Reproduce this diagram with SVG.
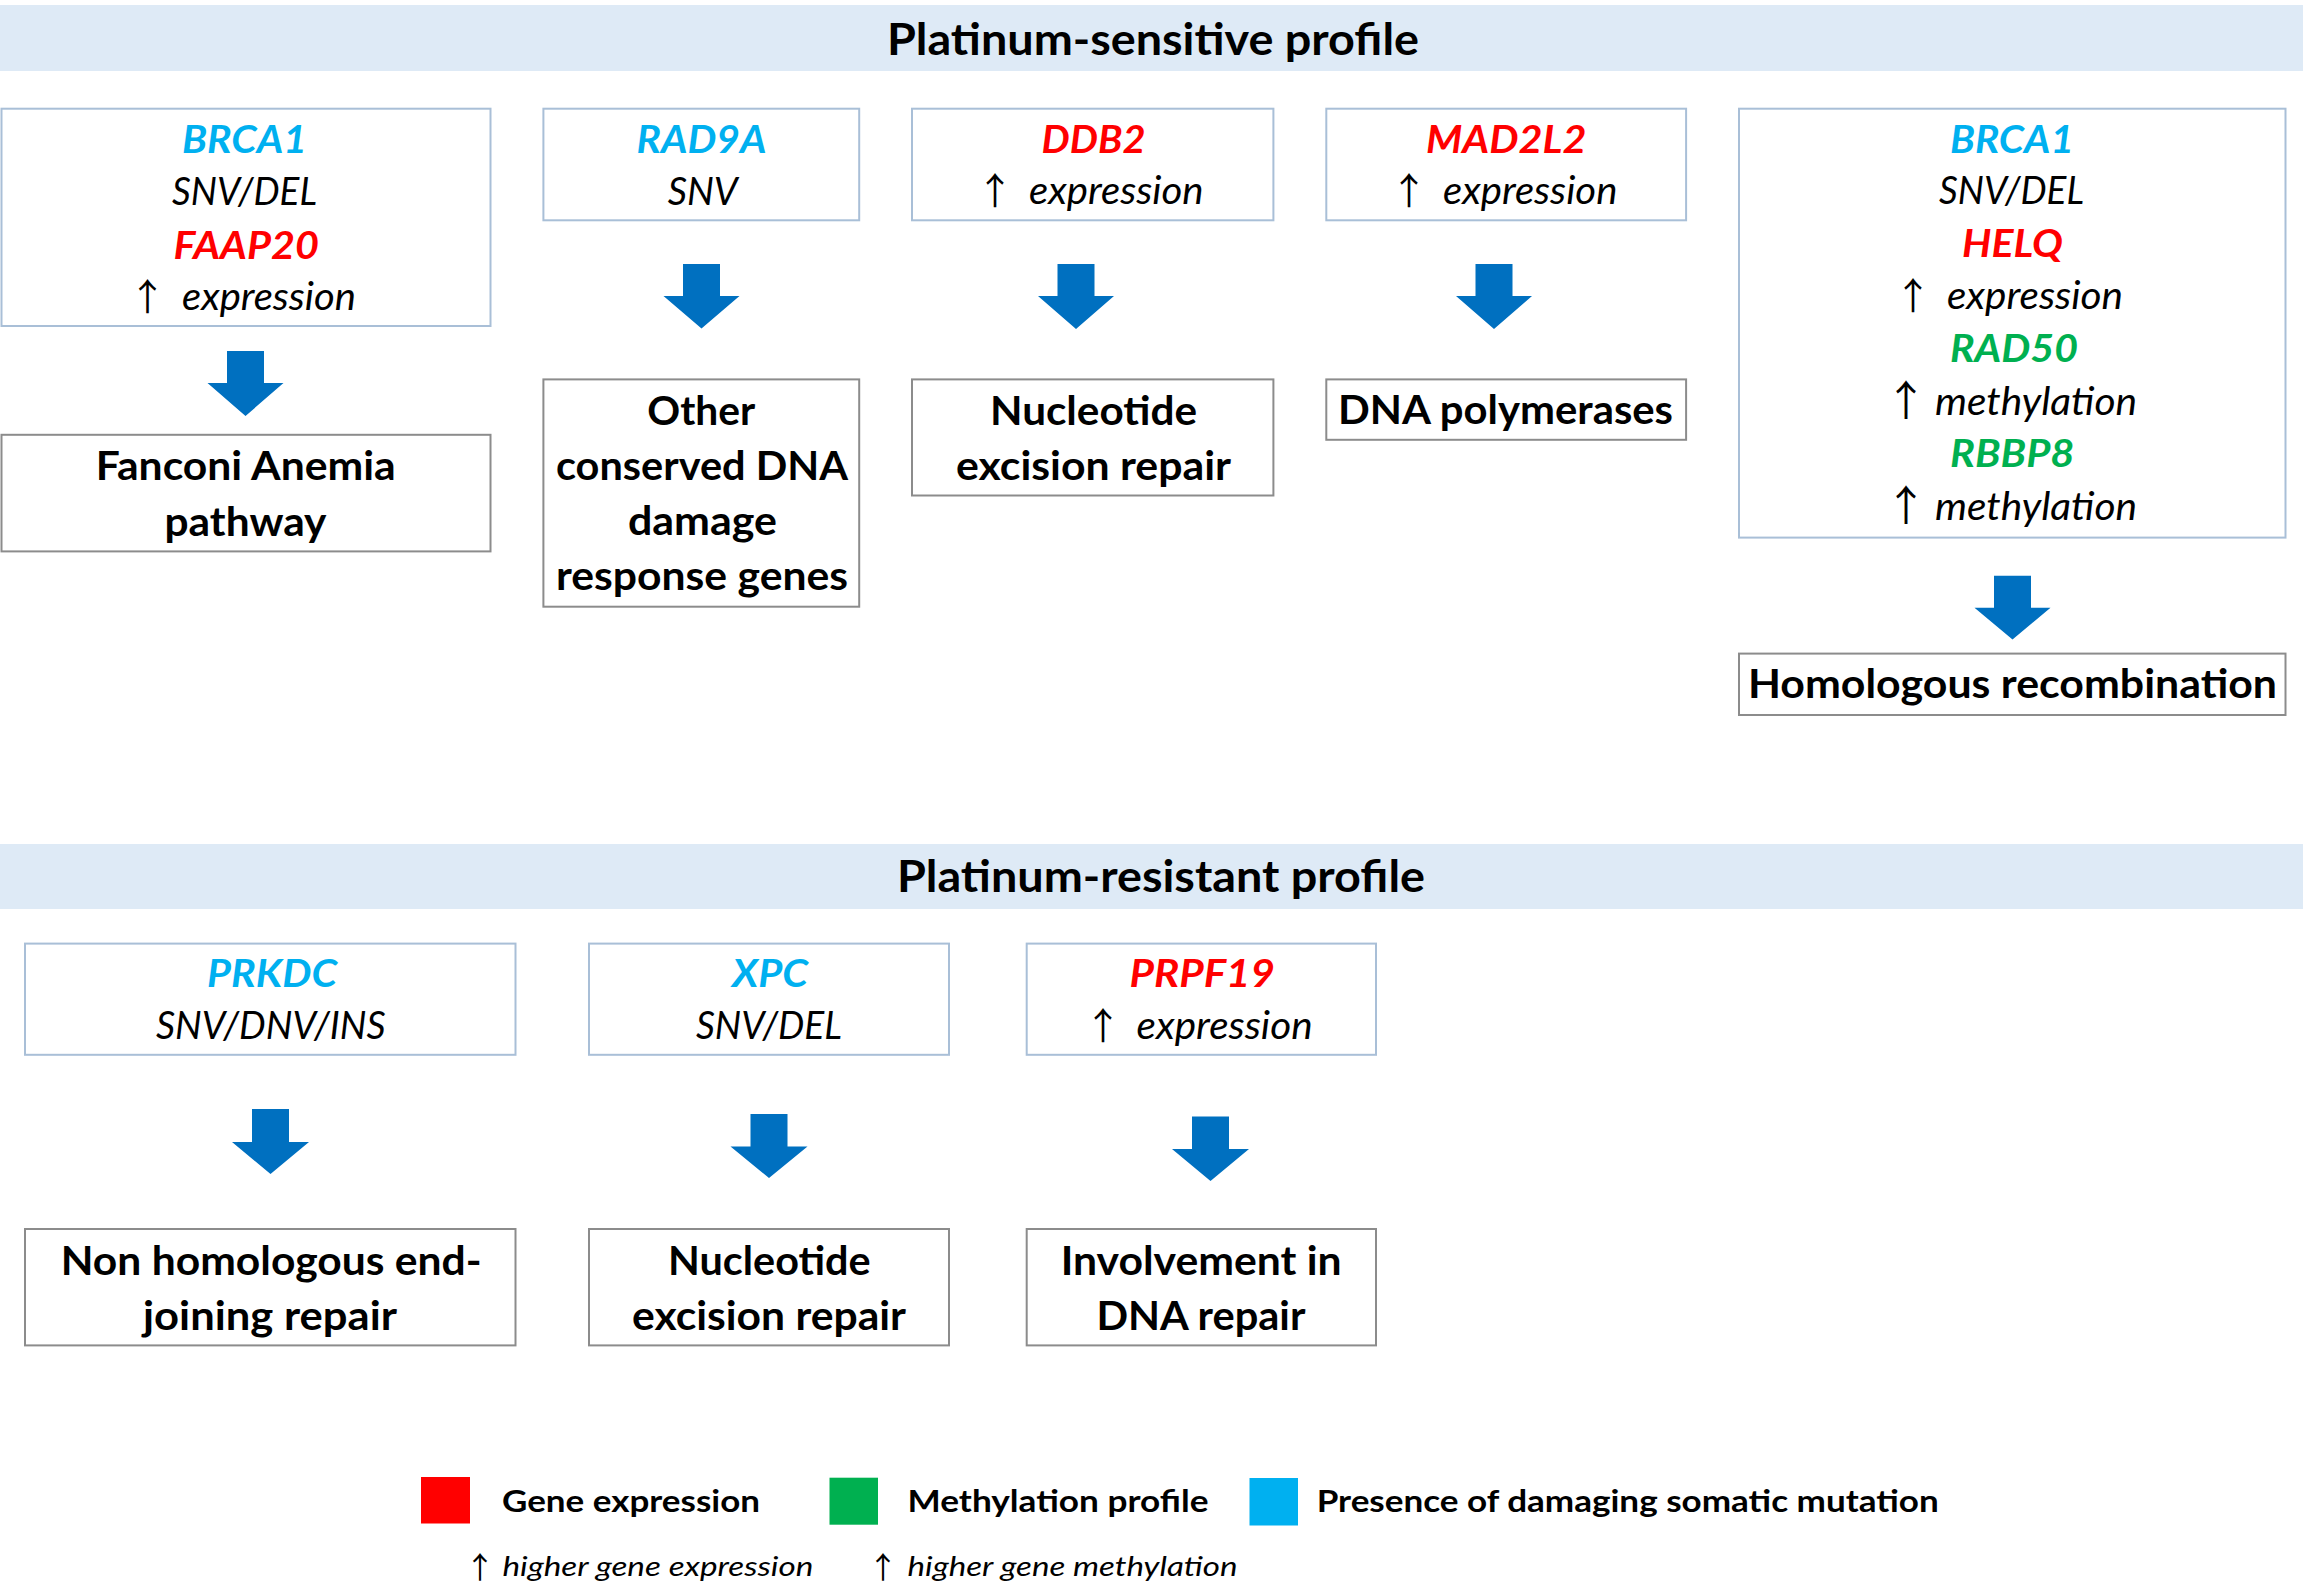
<svg xmlns="http://www.w3.org/2000/svg" width="2303" height="1586" viewBox="0 0 2303 1586">
<defs>
<style>
text{font-family:Lato,"Liberation Sans",sans-serif;}
.band{fill:#deeaf6;}
.title{font-weight:bold;font-size:43px;fill:#000;}
.gbox{fill:#fff;stroke:#a9bfd7;stroke-width:2;}
.obox{fill:#fff;stroke:#8c8c8c;stroke-width:2;}
.gn{font-weight:bold;font-style:italic;font-size:39px;}
.dt{font-style:italic;font-size:39px;fill:#000;}
.out{font-weight:bold;font-size:40px;fill:#000;}
.up{font-family:"Noto Sans CJK SC","DejaVu Sans",sans-serif;font-size:37px;fill:#000;text-anchor:middle;}
.upm{font-family:"Noto Sans CJK SC","DejaVu Sans",sans-serif;font-size:42px;fill:#000;text-anchor:middle;}
.upl{font-family:"Noto Sans CJK SC","DejaVu Sans",sans-serif;font-size:30px;fill:#000;text-anchor:middle;}
.blue{fill:#00b0f0;}
.red{fill:#ff0000;}
.green{fill:#00b050;}
.arr{fill:#0070c0;}
.lg{font-weight:bold;font-size:31px;fill:#000;}
.li{font-style:italic;font-size:27px;fill:#000;}
</style>
</defs>
<rect width="2303" height="1586" fill="#fff"/>

<g id="header-sensitive">
<rect class="band" x="0" y="5" width="2303" height="66"/>
<text class="title" x="887" y="55" textLength="532" lengthAdjust="spacingAndGlyphs">Platinum-sensitive profile</text>
</g>

<g id="header-resistant">
<rect class="band" x="0" y="844" width="2303" height="65"/>
<text class="title" x="897" y="892" textLength="528" lengthAdjust="spacingAndGlyphs">Platinum-resistant profile</text>
</g>

<!-- Top row gene boxes -->
<g id="s-gene-brca1-faap20">
<rect class="gbox" x="1.5" y="108.7" width="489" height="217.3"/>
<text class="gn blue" x="182" y="153" textLength="125" lengthAdjust="spacingAndGlyphs">BRCA1</text>
<text class="dt" x="172" y="205" textLength="145" lengthAdjust="spacingAndGlyphs">SNV/DEL</text>
<text class="gn red" x="173.5" y="259" textLength="145.5" lengthAdjust="spacingAndGlyphs">FAAP20</text>
<text class="up" x="147.5" y="311">↑</text>
<text class="dt" x="182" y="310" textLength="174" lengthAdjust="spacingAndGlyphs">expression</text>
</g>

<g id="s-gene-rad9a">
<rect class="gbox" x="543.4" y="108.7" width="315.8" height="111.6"/>
<text class="gn blue" x="636.5" y="153" textLength="130" lengthAdjust="spacingAndGlyphs">RAD9A</text>
<text class="dt" x="667.7" y="205" textLength="70" lengthAdjust="spacingAndGlyphs">SNV</text>
</g>

<g id="s-gene-ddb2">
<rect class="gbox" x="912" y="108.7" width="361.4" height="111.6"/>
<text class="gn red" x="1041.5" y="152.5" textLength="104" lengthAdjust="spacingAndGlyphs">DDB2</text>
<text class="up" x="995" y="205">↑</text>
<text class="dt" x="1029" y="204" textLength="174.5" lengthAdjust="spacingAndGlyphs">expression</text>
</g>

<g id="s-gene-mad2l2">
<rect class="gbox" x="1326.3" y="108.7" width="359.8" height="111.6"/>
<text class="gn red" x="1426" y="152.5" textLength="160.5" lengthAdjust="spacingAndGlyphs">MAD2L2</text>
<text class="up" x="1409" y="205">↑</text>
<text class="dt" x="1443" y="204" textLength="174.4" lengthAdjust="spacingAndGlyphs">expression</text>
</g>

<g id="s-gene-hr">
<rect class="gbox" x="1739" y="108.7" width="546.5" height="428.9"/>
<text class="gn blue" x="1950" y="152.5" textLength="124" lengthAdjust="spacingAndGlyphs">BRCA1</text>
<text class="dt" x="1939" y="204" textLength="145" lengthAdjust="spacingAndGlyphs">SNV/DEL</text>
<text class="gn red" x="1962" y="257" textLength="101" lengthAdjust="spacingAndGlyphs">HELQ</text>
<text class="up" x="1913" y="310">↑</text>
<text class="dt" x="1947" y="309" textLength="176" lengthAdjust="spacingAndGlyphs">expression</text>
<text class="gn green" x="1950" y="362" textLength="128" lengthAdjust="spacingAndGlyphs">RAD50</text>
<text class="upm" x="1906" y="416">↑</text>
<text class="dt" x="1935" y="414.5" textLength="202" lengthAdjust="spacingAndGlyphs">methylation</text>
<text class="gn green" x="1950" y="467" textLength="124.5" lengthAdjust="spacingAndGlyphs">RBBP8</text>
<text class="upm" x="1906" y="521">↑</text>
<text class="dt" x="1935" y="519.5" textLength="202" lengthAdjust="spacingAndGlyphs">methylation</text>
</g>

<!-- Top row outcome boxes -->
<g id="s-out-fanconi">
<rect class="obox" x="1.5" y="434.8" width="489" height="116.6"/>
<text class="out" x="95.7" y="480" textLength="300" lengthAdjust="spacingAndGlyphs">Fanconi Anemia</text>
<text class="out" x="164.5" y="536" textLength="162" lengthAdjust="spacingAndGlyphs">pathway</text>
</g>

<g id="s-out-other">
<rect class="obox" x="543.4" y="379.4" width="315.8" height="227.3"/>
<text class="out" x="647.3" y="424.5" textLength="108" lengthAdjust="spacingAndGlyphs">Other</text>
<text class="out" x="556" y="479.5" textLength="292" lengthAdjust="spacingAndGlyphs">conserved DNA</text>
<text class="out" x="628" y="534.5" textLength="149" lengthAdjust="spacingAndGlyphs">damage</text>
<text class="out" x="556" y="590" textLength="292" lengthAdjust="spacingAndGlyphs">response genes</text>
</g>

<g id="s-out-ner">
<rect class="obox" x="912" y="379.4" width="361.4" height="116.1"/>
<text class="out" x="990" y="424.5" textLength="207" lengthAdjust="spacingAndGlyphs">Nucleotide</text>
<text class="out" x="956" y="479.5" textLength="275" lengthAdjust="spacingAndGlyphs">excision repair</text>
</g>

<g id="s-out-pol">
<rect class="obox" x="1326.3" y="379.4" width="359.8" height="60.4"/>
<text class="out" x="1338" y="424" textLength="335" lengthAdjust="spacingAndGlyphs">DNA polymerases</text>
</g>

<g id="s-out-hr">
<rect class="obox" x="1739" y="653.6" width="546.5" height="61.4"/>
<text class="out" x="1748" y="697.5" textLength="529" lengthAdjust="spacingAndGlyphs">Homologous recombination</text>
</g>

<!-- Bottom row gene boxes -->
<g id="r-gene-prkdc">
<rect class="gbox" x="25" y="943.6" width="490.5" height="111.2"/>
<text class="gn blue" x="207" y="987" textLength="130" lengthAdjust="spacingAndGlyphs">PRKDC</text>
<text class="dt" x="156" y="1039" textLength="229.5" lengthAdjust="spacingAndGlyphs">SNV/DNV/INS</text>
</g>

<g id="r-gene-xpc">
<rect class="gbox" x="589" y="943.6" width="360" height="111.2"/>
<text class="gn blue" x="732" y="987" textLength="76" lengthAdjust="spacingAndGlyphs">XPC</text>
<text class="dt" x="696" y="1039" textLength="146" lengthAdjust="spacingAndGlyphs">SNV/DEL</text>
</g>

<g id="r-gene-prpf19">
<rect class="gbox" x="1026.7" y="943.6" width="349.3" height="111.2"/>
<text class="gn red" x="1129.5" y="987" textLength="145.5" lengthAdjust="spacingAndGlyphs">PRPF19</text>
<text class="up" x="1103" y="1040">↑</text>
<text class="dt" x="1136.6" y="1039" textLength="176" lengthAdjust="spacingAndGlyphs">expression</text>
</g>

<!-- Bottom row outcome boxes -->
<g id="r-out-nhej">
<rect class="obox" x="25" y="1229" width="490.5" height="116.4"/>
<text class="out" x="60.7" y="1275" textLength="421" lengthAdjust="spacingAndGlyphs">Non homologous end-</text>
<text class="out" x="143" y="1330" textLength="254" lengthAdjust="spacingAndGlyphs">joining repair</text>
</g>

<g id="r-out-ner">
<rect class="obox" x="589" y="1229" width="360" height="116.4"/>
<text class="out" x="668" y="1275" textLength="202.7" lengthAdjust="spacingAndGlyphs">Nucleotide</text>
<text class="out" x="632" y="1330" textLength="274" lengthAdjust="spacingAndGlyphs">excision repair</text>
</g>

<g id="r-out-dna">
<rect class="obox" x="1026.7" y="1229" width="349.3" height="116.4"/>
<text class="out" x="1060.7" y="1275" textLength="281" lengthAdjust="spacingAndGlyphs">Involvement in</text>
<text class="out" x="1096.4" y="1330" textLength="209" lengthAdjust="spacingAndGlyphs">DNA repair</text>
</g>

<!-- Connectors: block arrows -->
<g id="connectors">
<path class="arr" d="M227,351 H264 V383 H283.5 L245.5,416 L207.5,383 H227 Z"/>
<path class="arr" d="M683,264 H720 V296 H739.5 L701.5,328.5 L663.5,296 H683 Z"/>
<path class="arr" d="M1057.5,264 H1094.5 V296 H1114 L1076,329 L1038,296 H1057.5 Z"/>
<path class="arr" d="M1475.5,264 H1512.5 V296 H1532 L1494,329 L1456,296 H1475.5 Z"/>
<path class="arr" d="M1994,575.7 H2031 V607.8 H2050.5 L2012.5,639.5 L1974.5,607.8 H1994 Z"/>
<path class="arr" d="M252,1109 H289 V1142 H309 L270.5,1174 L232,1142 H252 Z"/>
<path class="arr" d="M750.5,1114 H787.5 V1146.4 H807.5 L769,1178 L730.5,1146.4 H750.5 Z"/>
<path class="arr" d="M1192,1116.4 H1229 V1149 H1249 L1210.5,1181 L1172,1149 H1192 Z"/>
</g>

<!-- Legend -->
<g id="legend">
<rect x="421" y="1477" width="49" height="46.5" fill="#ff0000"/>
<text class="lg" x="502" y="1512" textLength="258" lengthAdjust="spacingAndGlyphs">Gene expression</text>
<rect x="829.5" y="1477.7" width="48.5" height="47" fill="#00b050"/>
<text class="lg" x="907.5" y="1512" textLength="301" lengthAdjust="spacingAndGlyphs">Methylation profile</text>
<rect x="1249.5" y="1478" width="48.5" height="47.5" fill="#00b0f0"/>
<text class="lg" x="1316.7" y="1512" textLength="622" lengthAdjust="spacingAndGlyphs">Presence of damaging somatic mutation</text>
<text class="upl" x="480" y="1578">↑</text>
<text class="li" x="502.4" y="1576" textLength="311" lengthAdjust="spacingAndGlyphs">higher gene expression</text>
<text class="upl" x="883" y="1578">↑</text>
<text class="li" x="907.5" y="1576" textLength="330" lengthAdjust="spacingAndGlyphs">higher gene methylation</text>
</g>
</svg>
